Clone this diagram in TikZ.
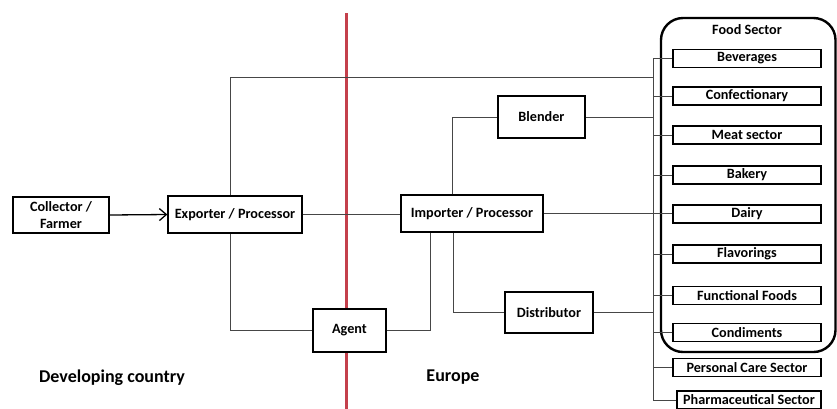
\documentclass[tikz,border=0pt]{standalone}
\usepackage{fontspec}
\setmainfont{Carlito}
\usetikzlibrary{arrows.meta}
\definecolor{divred}{RGB}{196,64,76}
\definecolor{conn}{RGB}{70,70,70}
\tikzset{
  txt/.style={font=\fontsize{14.2}{17}\selectfont\bfseries},
  box/.style={draw=black, line width=1.3pt, fill=white, inner sep=0pt, align=center, txt},
  sectbox/.style={box, minimum width=148pt, minimum height=18pt},
  conn/.style={draw=conn, line width=0.9pt},
  lbl/.style={font=\fontsize{18}{20}\selectfont\bfseries, inner sep=0pt}
}
\begin{document}
\begin{tikzpicture}[x=1pt,y=-1pt]
\useasboundingbox (0,0) rectangle (837,408);
% divider
\draw[divred, line width=3pt] (346.5,13) -- (346.5,410);
% food sector frame
\draw[black, line width=2.4pt, rounded corners=22pt] (661,18) rectangle (835.5,352);
\node[txt, inner sep=0pt] (fs) at (747,30) {Food Sector};
% boxes
\node[box, minimum width=96pt, minimum height=36pt] (col) at (61,215) {Collector /\\Farmer};
\node[box, minimum width=134pt, minimum height=37pt] (exp) at (235,214.5) {Exporter / Processor};
\node[box, minimum width=142pt, minimum height=37pt] (imp) at (472,213.5) {Importer / Processor};
\node[box, minimum width=87pt, minimum height=42pt] (ble) at (541.5,117) {Blender};
\node[box, minimum width=88pt, minimum height=41pt] (dis) at (549,312.5) {Distributor};
\node[box, minimum width=73pt, minimum height=43pt] (age) at (349.5,330.5) {Agent};
% sector boxes
\node[sectbox] (s1) at (747,58.5) {Beverages};
\node[sectbox] (s2) at (747,96) {Confectionary};
\node[sectbox] (s3) at (747,135) {Meat sector};
\node[sectbox] (s4) at (747,175) {Bakery};
\node[sectbox] (s5) at (747,214) {Dairy};
\node[sectbox] (s6) at (747,254) {Flavorings};
\node[sectbox] (s7) at (747,295.5) {Functional Foods};
\node[sectbox] (s8) at (747,332.5) {Condiments};
\node[sectbox] (s9) at (747,367.5) {Personal Care Sector};
\node[sectbox, minimum width=144pt] (s10) at (749,400) {Pharmaceutical Sector};
% labels
\node[lbl] (dev) at (112,378) {Developing country};
\node[lbl] (eur) at (453,377) {Europe};
% bus
\coordinate (bt) at (653,58.5);
\coordinate (bb) at (653,400);
\draw[conn] (bt) -- (bb);
\foreach \s in {s1,s2,s3,s4,s6,s7,s8,s9,s10} {\draw[conn] (bt |- \s.west) -- (\s.west);}
% connectors
\draw[black, line width=1.3pt, -{Straight Barb[length=7pt,width=12pt,line width=1.3pt]}] (col.east) -- (exp.west);
\coordinate (et) at (230,77);
\draw[conn] (et |- exp.north) -- (et) -- (bt |- et);
\draw[conn] (exp.east) -- (exp.east -| imp.west);
\coordinate (eb) at (230,330.5);
\draw[conn] (eb |- exp.south) -- (eb) -- (age.west);
\coordinate (ab) at (430,330.5);
\draw[conn] (age.east) -- (ab) -- (ab |- imp.south);
\coordinate (ib) at (452,117);
\draw[conn] (ib |- imp.north) -- (ib) -- (ble.west);
\draw[conn] (ble.east) -- (bt |- ble.east);
\draw[conn] (imp.east) -- (imp.east -| s5.west);
\coordinate (id) at (453,312.5);
\draw[conn] (id |- imp.south) -- (id) -- (dis.west);
\draw[conn] (dis.east) -- (bt |- dis.east);
\end{tikzpicture}
\end{document}
